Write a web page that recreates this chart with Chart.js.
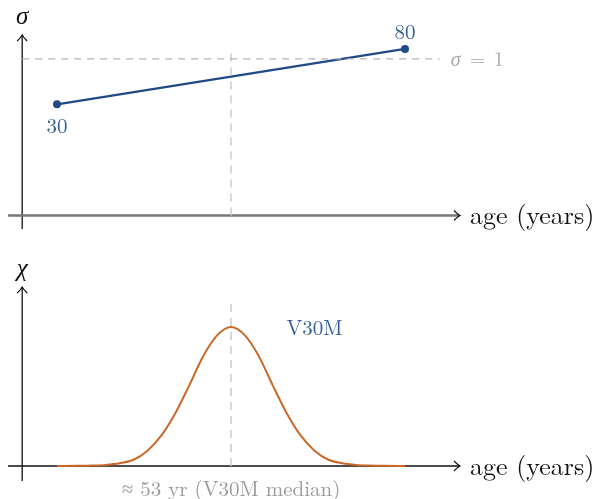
<!DOCTYPE html>
<html>
<head>
<meta charset="utf-8">
<script src="https://cdn.jsdelivr.net/npm/chart.js@4.4.1/dist/chart.umd.min.js"></script>
<style>
  html, body { margin: 0; padding: 0; background: #ffffff; }
  #wrap { position: relative; width: 597px; height: 499px; background: #fff; }
  .panel { position: absolute; left: 0; width: 597px; }
  #p1 { top: 0; height: 245px; }
  #p2 { top: 245px; height: 254px; }
</style>
</head>
<body>
<div id="wrap">
  <div class="panel" id="p1"><canvas id="c1" width="597" height="245"></canvas></div>
  <div class="panel" id="p2"><canvas id="c2" width="597" height="254"></canvas></div>
</div>
<script>
// ---------- data ----------
const sigmaAges   = [30, 80];
const sigmaValues = [0.71, 1.064];
const sigmaPointLabels = ["30", "80"];
const sigmaRefValue = 1;
const sigmaRefAges  = [25, 85];
const medianAge = 55;                 // drawn position of the median marker
const medianText = "≈ 53 yr (V30M median)";
const seriesName = "V30M";
const seriesLabelAge = 67;
const seriesLabelChi = 0.99;

const chiAges   = [30, 33, 35, 37, 39, 41, 43, 45, 47, 49, 51, 53, 55,
                   57, 59, 61, 63, 65, 67, 69, 71, 73, 75, 77, 80];
const chiValues = [0.0, 0.001, 0.003, 0.008, 0.02, 0.045, 0.11, 0.22, 0.38, 0.58, 0.79, 0.94, 1.0,
                   0.94, 0.79, 0.58, 0.38, 0.22, 0.11, 0.045, 0.02, 0.008, 0.003, 0.001, 0.0];

const xAxisTitle = "age (years)";
const topAxisSymbol = "σ";
const bottomAxisSymbol = "χ";
const yAxisAge = 25;

// ---------- styling ----------
const SERIF = "'Latin Modern Roman','Liberation Serif','DejaVu Serif',serif";
const BLUE = "#1f4a85";
const BLUE_TEXT = "#335f9b";
const ORANGE = "#c8692a";
const GRAY_DASH = "#b4b4b4";
const GRAY_TEXT = "#a8a8a8";

function arrowRight(ctx, x, y, color, lw) {
  ctx.save();
  ctx.strokeStyle = color; ctx.lineWidth = lw || 1.2;
  ctx.beginPath();
  ctx.moveTo(x - 6, y - 5); ctx.quadraticCurveTo(x - 2, y - 1, x, y);
  ctx.quadraticCurveTo(x - 2, y + 1, x - 6, y + 5);
  ctx.stroke();
  ctx.restore();
}
function arrowUp(ctx, x, y, color) {
  ctx.save();
  ctx.strokeStyle = color; ctx.lineWidth = 1.2;
  ctx.beginPath();
  ctx.moveTo(x - 5, y + 6); ctx.quadraticCurveTo(x - 1, y + 2, x, y);
  ctx.quadraticCurveTo(x + 1, y + 2, x + 5, y + 6);
  ctx.stroke();
  ctx.restore();
}

function axesPlugin(opts) {
  return {
    id: 'axesDraw' + opts.id,
    beforeDatasetsDraw(chart) {
      const { ctx, chartArea: a, scales: { x, y } } = chart;
      const yx = x.getPixelForValue(yAxisAge);
      const y0 = y.getPixelForValue(0);
      ctx.save();
      ctx.strokeStyle = "#111"; ctx.lineWidth = 1.3;
      ctx.beginPath(); ctx.moveTo(yx, a.bottom); ctx.lineTo(yx, a.top); ctx.stroke();
      arrowUp(ctx, yx, a.top, "#111");
      ctx.strokeStyle = opts.xColor; ctx.lineWidth = opts.xWidth;
      ctx.beginPath(); ctx.moveTo(a.left, y0); ctx.lineTo(a.right - 1, y0); ctx.stroke();
      arrowRight(ctx, a.right, y0, "#111", 1.2);
      ctx.restore();
    },
    afterDraw(chart) {
      const { ctx, chartArea: a, scales: { x, y } } = chart;
      const yx = x.getPixelForValue(yAxisAge);
      const y0 = y.getPixelForValue(0);
      ctx.save();
      ctx.fillStyle = "#111";
      ctx.font = "italic 25px " + SERIF;
      ctx.textAlign = "center"; ctx.textBaseline = "alphabetic";
      ctx.fillText(opts.symbol, yx, a.top - 11);
      ctx.font = "26px " + SERIF;
      ctx.textAlign = "left"; ctx.textBaseline = "middle";
      ctx.fillText(xAxisTitle, a.right + 10, y0 + 1);
      opts.extra(chart, ctx, x, y);
      ctx.restore();
    }
  };
}

const common = {
  responsive: false,
  animation: false,
  events: [],
  plugins: { legend: { display: false }, tooltip: { enabled: false } },
};

// ---------- top panel: sigma ----------
new Chart(document.getElementById('c1'), {
  type: 'scatter',
  data: {
    datasets: [
      { data: sigmaRefAges.map(a => ({ x: a, y: sigmaRefValue })), showLine: true,
        borderColor: GRAY_DASH, borderWidth: 1.2, borderDash: [7, 6], pointRadius: 0 },
      { data: [{ x: medianAge, y: 0 }, { x: medianAge, y: sigmaValues[1] }], showLine: true,
        borderColor: "#cfcfcf", borderWidth: 1.6, borderDash: [8, 6], pointRadius: 0 },
      { data: sigmaAges.map((a, i) => ({ x: a, y: sigmaValues[i] })), showLine: true,
        borderColor: BLUE, borderWidth: 2.2, pointRadius: 4, pointBackgroundColor: BLUE,
        pointBorderWidth: 0 }
    ]
  },
  options: Object.assign({}, common, {
    layout: { padding: { left: 8, right: 137, top: 35, bottom: 16 } },
    scales: {
      x: { type: 'linear', min: 22.96, max: 87.9, display: false },
      y: { type: 'linear', min: -0.086, max: 1.153, display: false }
    }
  }),
  plugins: [axesPlugin({
    id: 1, symbol: topAxisSymbol, xColor: "#777", xWidth: 2.5,
    extra(chart, ctx, x, y) {
      ctx.font = "21px " + SERIF;
      ctx.fillStyle = BLUE_TEXT; ctx.textAlign = "center"; ctx.textBaseline = "middle";
      ctx.fillText(sigmaPointLabels[0], x.getPixelForValue(sigmaAges[0]), y.getPixelForValue(sigmaValues[0]) + 22);
      ctx.fillText(sigmaPointLabels[1], x.getPixelForValue(sigmaAges[1]), y.getPixelForValue(sigmaValues[1]) - 16);
      ctx.fillStyle = GRAY_TEXT; ctx.textAlign = "left";
      const rx = x.getPixelForValue(sigmaRefAges[1]) + 11, ry = y.getPixelForValue(sigmaRefValue) + 1;
      ctx.font = "italic 20px " + SERIF;
      ctx.fillText("σ", rx, ry);
      ctx.font = "20px " + SERIF;
      ctx.fillText("=", rx + 19, ry);
      ctx.fillText("1", rx + 43, ry);
    }
  })]
});

// ---------- bottom panel: chi ----------
new Chart(document.getElementById('c2'), {
  type: 'scatter',
  data: {
    datasets: [
      { data: [{ x: medianAge, y: 0 }, { x: medianAge, y: 1.2 }], showLine: true,
        borderColor: "#cfcfcf", borderWidth: 1.6, borderDash: [8, 6], pointRadius: 0 },
      { data: chiAges.map((a, i) => ({ x: a, y: chiValues[i] })), showLine: true,
        borderColor: ORANGE, borderWidth: 2, pointRadius: 0, cubicInterpolationMode: 'monotone' }
    ]
  },
  options: Object.assign({}, common, {
    layout: { padding: { left: 8, right: 137, top: 42, bottom: 18 } },
    scales: {
      x: { type: 'linear', min: 22.96, max: 87.9, display: false },
      y: { type: 'linear', min: -0.108, max: 1.288, display: false }
    }
  }),
  plugins: [axesPlugin({
    id: 2, symbol: bottomAxisSymbol, xColor: "#111", xWidth: 1.3,
    extra(chart, ctx, x, y) {
      ctx.font = "21px " + SERIF;
      ctx.fillStyle = BLUE_TEXT; ctx.textAlign = "center"; ctx.textBaseline = "middle";
      ctx.fillText(seriesName, x.getPixelForValue(seriesLabelAge), y.getPixelForValue(seriesLabelChi));
      ctx.font = "21px " + SERIF;
      ctx.fillStyle = "#9a9a9a";
      ctx.fillText(medianText, x.getPixelForValue(medianAge), y.getPixelForValue(0) + 24);
    }
  })]
});
</script>
</body>
</html>
